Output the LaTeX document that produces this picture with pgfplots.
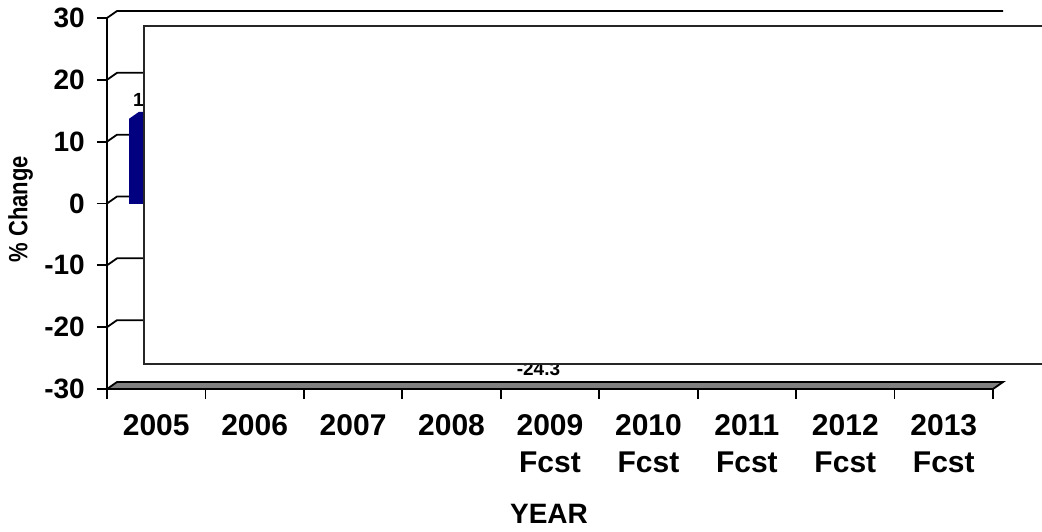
\documentclass[border=0pt]{standalone}
\usepackage{fontspec}
\setmainfont{Liberation Sans}
\usepackage{graphicx}
\usepackage{pgfplots}
\pgfplotsset{compat=1.18}
\definecolor{barnavy}{RGB}{0,0,128}
\definecolor{floorgray}{RGB}{128,128,128}
\begin{document}
\begin{tikzpicture}
\useasboundingbox (0pt,0pt) rectangle (1042pt,531pt);
\begin{axis}[
  at={(107pt,142pt)}, anchor=south west,
  width=886pt, height=371pt, scale only axis,
  xmin=0, xmax=9, ymin=-30, ymax=30,
  clip=false,
  axis x line*=bottom, axis y line*=left,
  axis line style={line width=1.8pt, -},
  tick align=outside,
  major tick length=10pt,
  tick style={line width=1.8pt, black},
  ytick={-30,-20,-10,0,10,20,30},
  yticklabels={-30,-20,-10,0,10,20,30},
  yticklabel style={font=\fontsize{28}{32}\selectfont\bfseries, anchor=east, inner sep=0pt, xshift=-12pt},
  xtick={0,1,...,9},
  x tick label as interval,
  xticklabels={2005,2006,2007,2008,{2009\\Fcst},{2010\\Fcst},{2011\\Fcst},{2012\\Fcst},{2013\\Fcst}},
  xticklabel style={font=\fontsize{30}{37}\selectfont\bfseries, align=center, anchor=north, inner sep=0pt, yshift=-15pt},
  xlabel={YEAR},
  xlabel style={font=\fontsize{28}{32}\selectfont\bfseries, at={(axis description cs:0.4989,-0.337)}, anchor=center},
  ylabel={\scalebox{1}[1.2]{\% Change}},
  ylabel style={font=\fontsize{22}{26}\selectfont\bfseries, at={(axis description cs:-0.0976,0.485)}, anchor=center},
]
% back wall grid lines (3-D depth)
\pgfplotsinvokeforeach{-20,-10,0,10,20,30}{
  \draw[line width=1.8pt] (axis cs:0,#1) -- ++(10pt,7pt) -- ([xshift=10pt,yshift=7pt]axis cs:9,#1);
}
% floor
\filldraw[fill=floorgray, draw=black, line width=1.8pt] (axis cs:0,-30) -- ++(10pt,7pt) -- ([xshift=10pt,yshift=7pt]axis cs:9,-30) -- (axis cs:9,-30) -- cycle;
% bars
\addplot[ybar, bar width=54.4pt, bar shift=0pt, fill=barnavy, draw=none,
  point meta=explicit symbolic,
  nodes near coords={\pgfplotspointmeta},
  every node near coord/.append style={font=\fontsize{19}{22}\selectfont\bfseries, anchor=base, xshift=-4.7pt, yshift=12pt}]
  coordinates {(0.5,13.7) [13.7]};
\fill[barnavy] (axis cs:0.5,13.7) ++(-27.2pt,0pt) -- ++(10pt,7pt) -- ++(54.4pt,0pt) -- ++(-10pt,-7pt) -- cycle;
\addplot[ybar, bar width=54.4pt, bar shift=0pt, fill=barnavy, draw=none,
  point meta=explicit symbolic,
  nodes near coords={\pgfplotspointmeta},
  every node near coord/.append style={font=\fontsize{19}{22}\selectfont\bfseries, anchor=base, xshift=-11.5pt, yshift=-21.3pt}]
  coordinates {(4.5,-24.3) [-24.3]};
\end{axis}
% overlay panel
\draw[fill=white, draw=black!85, line width=1.2pt] (144pt,505pt) rectangle (1060pt,167pt);
\end{tikzpicture}
\end{document}
